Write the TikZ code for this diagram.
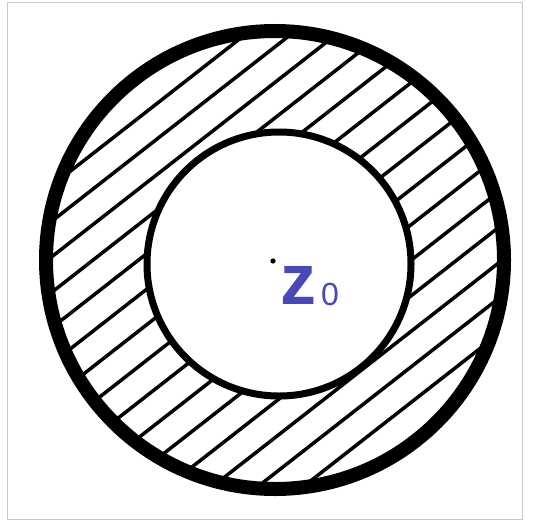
\documentclass[tikz,border=0pt]{standalone}
\usepackage{fontspec}
\setmainfont{Liberation Sans}
\definecolor{zblue}{RGB}{72,72,184}
\definecolor{framegray}{RGB}{200,200,200}
\tikzset{
  outerring/.style={line width=14pt, draw=black},
  innerring/.style={line width=7pt, draw=black, fill=white},
  hatchline/.style={line width=3.5pt, draw=black},
  framebox/.style={line width=1pt, draw=framegray},
}
\begin{document}
\begin{tikzpicture}[x=1pt,y=-1pt]
\useasboundingbox (0,0) rectangle (534,522);
\fill[white] (0,0) rectangle (534,522);
\draw[framebox] (7,2) rectangle (522,519);
\coordinate (oc) at (275,260);
\coordinate (ic) at (279,264);
\begin{scope}
  \clip (oc) circle[radius=229];
  \foreach \k in {-9,...,9}{
    \draw[hatchline] ({275+\k*17.24-236.4},{260+\k*22.06+184.7}) -- ({275+\k*17.24+236.4},{260+\k*22.06-184.7});
  }
\end{scope}
\draw[outerring] (oc) circle[radius=229];
\draw[innerring] (ic) circle[radius=132];
\fill[black] (273,261) circle[radius=2.6];
\node[anchor=base west, inner sep=0pt, text=zblue, font=\fontsize{72}{72}\selectfont\bfseries] (zlabel) at (280,304) {z};
\node[anchor=base west, inner sep=0pt, text=zblue, font=\fontsize{32}{32}\selectfont] (zsub) at (321,305) {0};
\end{tikzpicture}
\end{document}
